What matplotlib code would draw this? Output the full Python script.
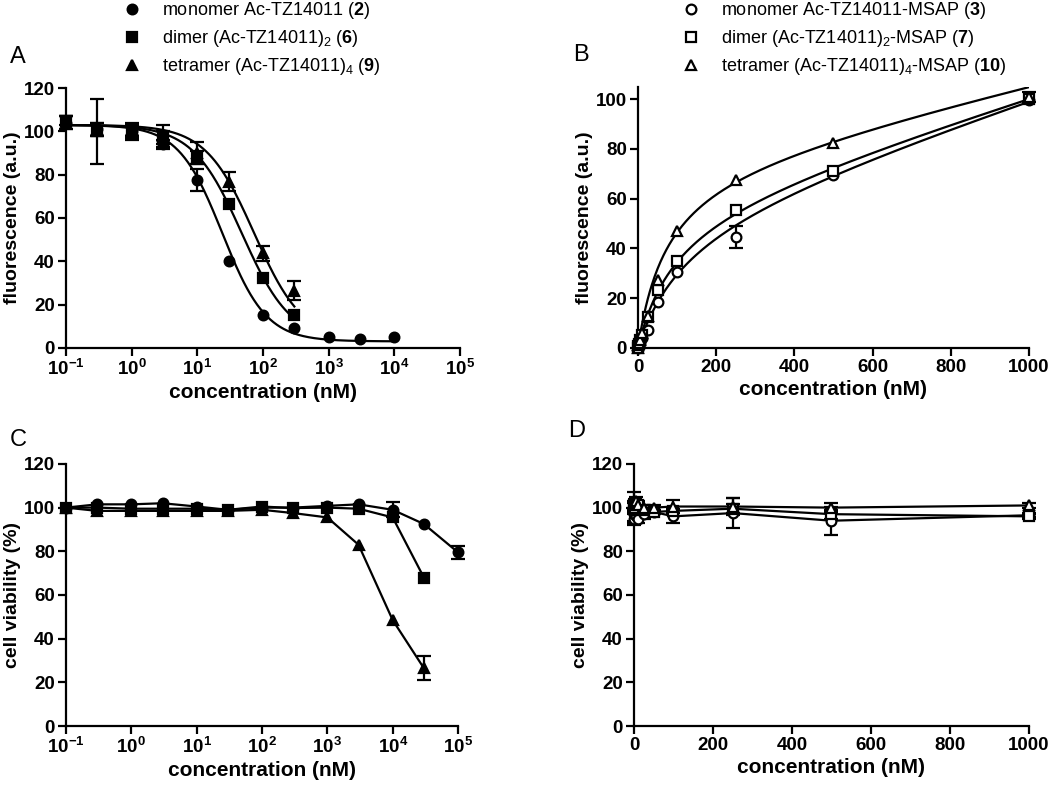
import numpy as np
import matplotlib
matplotlib.use("Agg")
import matplotlib.pyplot as plt
from matplotlib.ticker import FuncFormatter, NullLocator

plt.rcParams['font.family'] = ['Liberation Sans', 'DejaVu Sans']
plt.rcParams['mathtext.fontset'] = 'custom'
plt.rcParams['mathtext.rm'] = 'Liberation Sans'
plt.rcParams['mathtext.bf'] = 'Liberation Sans:bold'
plt.rcParams['mathtext.default'] = 'regular'

# ---- panel A: fluorescence vs concentration (log), filled markers
conc_A = [0.1, 0.3, 1, 3, 10, 30, 100, 300, 1000, 3000, 10000]
mono_A = [104, 101, 100, 94, 77.5, 40, 15.3, 9, 5.2, 4.3, 5]
mono_A_err = [3, 3, 3, 2, 5, 0, 0, 0, 0, 0, 0]
dimer_A = [105, 100, 99, 97, 88, 66.5, 32.5, 15.3]
dimer_A_err = [2, 15, 3, 3, 3, 0, 0, 0]
tetra_A = [104, 101, 101, 98, 90, 76.8, 43.7, 26.5]
tetra_A_err = [3, 3, 3, 5, 5, 4.5, 3.5, 4.5]
# fitted 4PL: top, bottom, logIC50, hill
fit_mono_A = [103, 3, 1.38, 1.3]
fit_dimer_A = [103, 3, 1.676, 1.16]
fit_tetra_A = [103, 3, 1.865, 1.17]

# ---- panel B: fluorescence vs concentration (linear), open markers
conc_B = [0, 1, 2.5, 5, 10, 25, 50, 100, 250, 500, 1000]
mono_B = [0, 0.5, 1, 2, 4, 7, 18.5, 30.5, 44.5, 69.5, 99.5]
mono_B_err = [0, 0, 0, 0, 0, 0, 0, 0, 4.5, 0, 0]
dimer_B = [0, 0.8, 1.5, 3, 5, 12.5, 23.2, 34.9, 55.4, 71.2, 100]
dimer_B_err = [0, 0, 0, 0, 0, 0, 0, 0, 0, 0, 0]
tetra_B = [0, 1, 2, 3, 6, 13, 27.2, 46.9, 67.4, 82.2, 101]
tetra_B_err = [0, 0, 0, 0, 0, 0, 0, 0, 0, 0, 2]
# fitted one site + nonspecific: Bmax, Kd, NS
fit_mono_B = [55, 125, 0.05]
fit_dimer_B = [58, 95, 0.047]
fit_tetra_B = [75, 75, 0.035]

# ---- panel C: viability (log), filled markers
conc_C = [0.1, 0.3, 1, 3, 10, 30, 100, 300, 1000, 3000, 10000, 30000, 100000]
mono_C = [100, 101.5, 101.5, 102, 100.5, 99, 100, 100, 100.8, 101.5, 99, 92.5, 79.5]
mono_C_err = [0, 0, 0, 0, 0, 0, 0, 0, 0, 0, 3.5, 0, 3]
dimer_C = [100, 100, 99.5, 99.5, 99.5, 99, 100.5, 99.8, 100, 99.5, 95.5, 68]
dimer_C_err = [0, 0, 0, 0, 0, 0, 0, 0, 0, 0, 0, 0]
tetra_C = [100, 98.5, 98.5, 98.5, 98.5, 98.5, 99, 97.5, 95.5, 83, 48.5, 26.5]
tetra_C_err = [0, 0, 0, 0, 0, 0, 0, 0, 0, 0, 0, 5.5]

# ---- panel D: viability (linear), open markers
conc_D = [0, 1, 2.5, 5, 10, 25, 50, 100, 250, 500, 1000]
mono_D = [95, 97, 100, 96, 95, 97, 98, 96, 97.5, 94, 96.5]
mono_D_err = [3, 3, 2, 3, 2, 2, 1, 3, 7, 6.5, 1]
dimer_D = [100, 100, 99, 100, 101, 99, 98, 98.5, 99.5, 97, 96]
dimer_D_err = [7, 3, 2, 2, 2, 1, 1, 1, 2, 2, 1]
tetra_D = [100, 101, 102, 103, 101, 100, 100, 100.5, 100.5, 100, 101]
tetra_D_err = [2, 2, 2, 2, 1, 1, 1, 3, 4, 2, 1]

labels_A = [r'monomer Ac-TZ14011 ($\mathbf{2}$)',
            r'dimer (Ac-TZ14011)$_2$ ($\mathbf{6}$)',
            r'tetramer (Ac-TZ14011)$_4$ ($\mathbf{9}$)']
labels_B = [r'monomer Ac-TZ14011-MSAP ($\mathbf{3}$)',
            r'dimer (Ac-TZ14011)$_2$-MSAP ($\mathbf{7}$)',
            r'tetramer (Ac-TZ14011)$_4$-MSAP ($\mathbf{10}$)']

TICK = 13.5
LAB = 15
YLAB = 14


def logistic(x, top, bottom, logic50, hill):
    return bottom + (top - bottom) / (1 + 10 ** ((np.log10(x) - logic50) * hill))


def binding(x, bmax, kd, ns):
    return bmax * x / (kd + x) + ns * x


def style(ax, ylim, yticks, ylabel, log=False):
    for s in ['top', 'right']:
        ax.spines[s].set_visible(False)
    for s in ['left', 'bottom']:
        ax.spines[s].set_linewidth(1.6)
    ax.tick_params(width=1.6, length=6, labelsize=TICK, pad=2)
    ax.set_ylim(*ylim)
    ax.set_yticks(yticks)
    if log:
        ax.set_xscale('log')
        ax.set_xlim(0.1, 1e5)
        ax.set_xticks([10.0 ** k for k in range(-1, 6)])
        ax.xaxis.set_minor_locator(NullLocator())
        ax.xaxis.set_major_formatter(FuncFormatter(
            lambda v, p: r'$\mathbf{10^{%d}}$' % int(round(np.log10(v)))))
    else:
        ax.set_xlim(0, 1000)
        ax.set_xticks(range(0, 1001, 200))
    for t in ax.get_xticklabels() + ax.get_yticklabels():
        t.set_fontweight('bold')
    ax.set_xlabel('concentration (nM)', fontsize=LAB, fontweight='bold', labelpad=3)
    ax.set_ylabel(ylabel, fontsize=YLAB, fontweight='bold', labelpad=2)


def pts(ax, x, y, err, m, filled, line=False):
    x = np.asarray(x[:len(y)], float)
    y = np.asarray(y, float)
    err = np.asarray(err, float)
    keep = err > 0
    # error bars only where there is a spread
    if keep.any():
        ax.errorbar(x[keep], y[keep], yerr=err[keep], fmt='none', ecolor='black',
                    elinewidth=1.6, capsize=5, capthick=1.6, clip_on=False, zorder=2)
    fc = 'black' if filled else 'white'
    h, = ax.plot(x, y, marker=m, ls='-' if line else 'none', color='black',
                 mfc=fc, mec='black', mew=1.6, ms=7, lw=1.6, clip_on=False, zorder=3)
    return h


fig = plt.figure(figsize=(10.5, 7.87), dpi=100)
axA = fig.add_axes([0.0629, 0.558, 0.3752, 0.330])
axB = fig.add_axes([0.6076, 0.558, 0.3724, 0.332])
axC = fig.add_axes([0.0629, 0.0775, 0.3733, 0.333])
axD = fig.add_axes([0.6038, 0.0775, 0.3762, 0.333])

# A
xs = np.logspace(-1, 4, 300)
axA.plot(xs, logistic(xs, *fit_mono_A), color='black', lw=1.6)
xs2 = np.logspace(-1, np.log10(300), 300)
axA.plot(xs2, logistic(xs2, *fit_dimer_A), color='black', lw=1.6)
axA.plot(xs2, logistic(xs2, *fit_tetra_A), color='black', lw=1.6)
hA = []
for y, e, m in [(mono_A, mono_A_err, 'o'), (dimer_A, dimer_A_err, 's'), (tetra_A, tetra_A_err, '^')]:
    hA.append(pts(axA, conc_A, y, e, m, True))
style(axA, (0, 120), range(0, 121, 20), 'fluorescence (a.u.)', log=True)

# B
xb = np.linspace(0, 1000, 400)
for f in [fit_mono_B, fit_dimer_B, fit_tetra_B]:
    axB.plot(xb, binding(xb, *f), color='black', lw=1.6)
hB = []
for y, e, m in [(mono_B, mono_B_err, 'o'), (dimer_B, dimer_B_err, 's'), (tetra_B, tetra_B_err, '^')]:
    hB.append(pts(axB, conc_B, y, e, m, False))
style(axB, (0, 105), range(0, 101, 20), 'fluorescence (a.u.)')

# C
for y, e, m in [(mono_C, mono_C_err, 'o'), (dimer_C, dimer_C_err, 's'), (tetra_C, tetra_C_err, '^')]:
    pts(axC, conc_C, y, e, m, True, line=True)
style(axC, (0, 120), range(0, 121, 20), 'cell viability (%)', log=True)

# D
for y, e, m in [(mono_D, mono_D_err, 'o'), (dimer_D, dimer_D_err, 's'), (tetra_D, tetra_D_err, '^')]:
    pts(axD, conc_D, y, e, m, False, line=True)
style(axD, (0, 120), range(0, 121, 20), 'cell viability (%)')

fig.legend(hA, labels_A, loc='upper left', bbox_to_anchor=(123 / 1050, 1.0),
           frameon=False, fontsize=13, handlelength=1, handletextpad=1.15,
           labelspacing=0.4, borderpad=0, borderaxespad=0)
fig.legend(hB, labels_B, loc='upper left', bbox_to_anchor=(682 / 1050, 1.0),
           frameon=False, fontsize=13, handlelength=1, handletextpad=1.15,
           labelspacing=0.4, borderpad=0, borderaxespad=0)

for txt, x, y in [('A', 10, 57), ('B', 573, 55), ('C', 10, 440), ('D', 568, 431)]:
    fig.text(x / 1050, 1 - y / 787, txt, fontsize=17, ha='left', va='center')

fig.savefig('out.png', dpi=100)
